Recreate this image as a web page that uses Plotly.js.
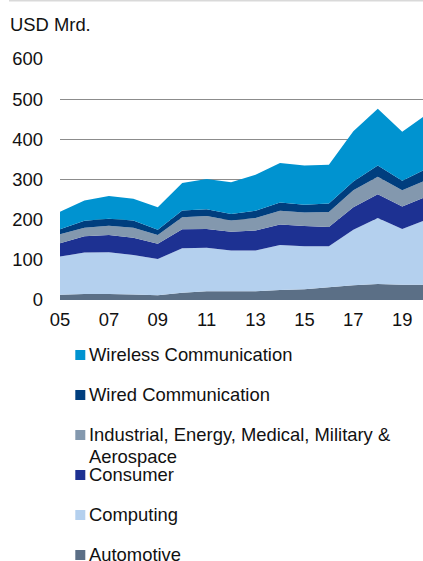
<!DOCTYPE html>
<html>
<head>
<meta charset="utf-8">
<script src="https://cdn.plot.ly/plotly-3.0.1.min.js"></script>
<style>html,body{margin:0;padding:0;background:#fff;}#chart{width:423px;height:561px;}</style>
</head>
<body>
<div id="chart"></div>
<script>
var years = [2005,2006,2007,2008,2009,2010,2011,2012,2013,2014,2015,2016,2017,2018,2019,2020];
var automotive = [13,15,15,14,12,18,22,22,22,25,27,32,37,40,38,38];
var computing  = [95,103,104,98,90,111,108,101,101,112,107,102,138,164,139,162];
var consumer   = [33,41,43,43,38,47,47,47,50,51,50,48,56,59,56,58];
var industrial = [23,21,23,25,22,30,32,28,31,34,34,37,42,44,40,41];
var wired      = [12,17,17,18,13,17,17,16,18,21,19,21,22,28,24,28];
var wireless   = [44,51,57,54,56,68,75,79,90,98,98,97,125,141,122,135];
var seriesNames = ["Automotive","Computing","Consumer","Industrial, Energy, Medical, Military & Aerospace","Wired Communication","Wireless Communication"];
var xTickVals = [2005,2007,2009,2011,2013,2015,2017,2019];
var xTickText = ["05","07","09","11","13","15","17","19"];
var yTickVals = [0,100,200,300,400,500,600];
var unitLabel = "USD Mrd.";

var colors = ["#5b6f86","#b4d0ee","#1d3192","#8398ae","#003e7e","#0093d0"];
var seriesValues = [automotive, computing, consumer, industrial, wired, wireless];

var FONT = "Liberation Sans, Arial, sans-serif";
var W = 423, H = 561;
var mL = 60, mR = 0, mT = 59, mB = 261;
var plotW = W - mL - mR, plotH = H - mT - mB;
function px2x(px){ return (px - mL) / plotW; }
function py2y(py){ return (H - mB - py) / plotH; }

var traces = seriesValues.map(function(vals, i){
  return {
    x: years, y: vals, name: seriesNames[i],
    type: "scatter", mode: "none", stackgroup: "one",
    fill: "tonexty", fillcolor: colors[i],
    line: {width: 0}, showlegend: false, hoverinfo: "skip"
  };
});

// manual legend (top to bottom: reversed order), fixed row pitch like the reference
var shapes = [];
var annotations = [];
var rowStart = 355, rowGap = 40, lineGap = 22;
function legendText(txt, cy){
  annotations.push({xref:"paper", yref:"paper", x: px2x(87), y: py2y(cy),
    xanchor:"left", yanchor:"middle", align:"left",
    text: txt, showarrow:false, font:{family:FONT, size:18.4, color:"#111"}});
}
for (var k = 0; k < seriesNames.length; k++) {
  var idx = seriesNames.length - 1 - k;
  var cy = rowStart + k * rowGap;
  shapes.push({type:"rect", xref:"paper", yref:"paper",
    x0: px2x(75.3), x1: px2x(85.3), y0: py2y(cy - 5), y1: py2y(cy + 5),
    fillcolor: colors[idx], line:{width:0}});
  var name = seriesNames[idx];
  var cut = name.indexOf(" Aerospace");
  if (cut >= 0) {
    legendText(name.slice(0, cut), cy - 1);
    legendText(name.slice(cut + 1), cy - 1 + lineGap);
  } else {
    legendText(name, cy - 1);
  }
}
annotations.push({xref:"paper", yref:"paper", x: px2x(8), y: py2y(24.5),
  xanchor:"left", yanchor:"middle", text: unitLabel, showarrow:false,
  font:{family:FONT, size:18.4, color:"#111"}});
shapes.push({type:"line", xref:"paper", yref:"paper",
  x0: px2x(9), x1: px2x(423), y0: py2y(0.8), y1: py2y(0.8),
  line:{color:"#d9d9d9", width:1.6}});

var layout = {
  width: W, height: H,
  margin: {l: mL, r: mR, t: mT, b: mB, pad: 0},
  paper_bgcolor: "#fff", plot_bgcolor: "#fff",
  showlegend: false,
  font: {family: FONT, size: 18.4, color: "#111"},
  xaxis: {range: [2005, 2019.85], tickvals: xTickVals, ticktext: xTickText,
    showgrid: false, zeroline: false, showline: false, ticks: "",
    ticklabelstandoff: 7, tickfont:{family:FONT, size:18.4, color:"#111"}, fixedrange:true},
  yaxis: {range: [0, 600], tickvals: yTickVals, showgrid: true,
    gridcolor: "#8c8c8c", gridwidth: 1, zeroline: false, showline: false, ticks: "",
    ticklabelstandoff: 16, tickfont:{family:FONT, size:18.4, color:"#111"}, fixedrange:true},
  shapes: shapes,
  annotations: annotations
};
Plotly.newPlot("chart", traces, layout, {displayModeBar: false, staticPlot: true});
</script>
</body>
</html>
